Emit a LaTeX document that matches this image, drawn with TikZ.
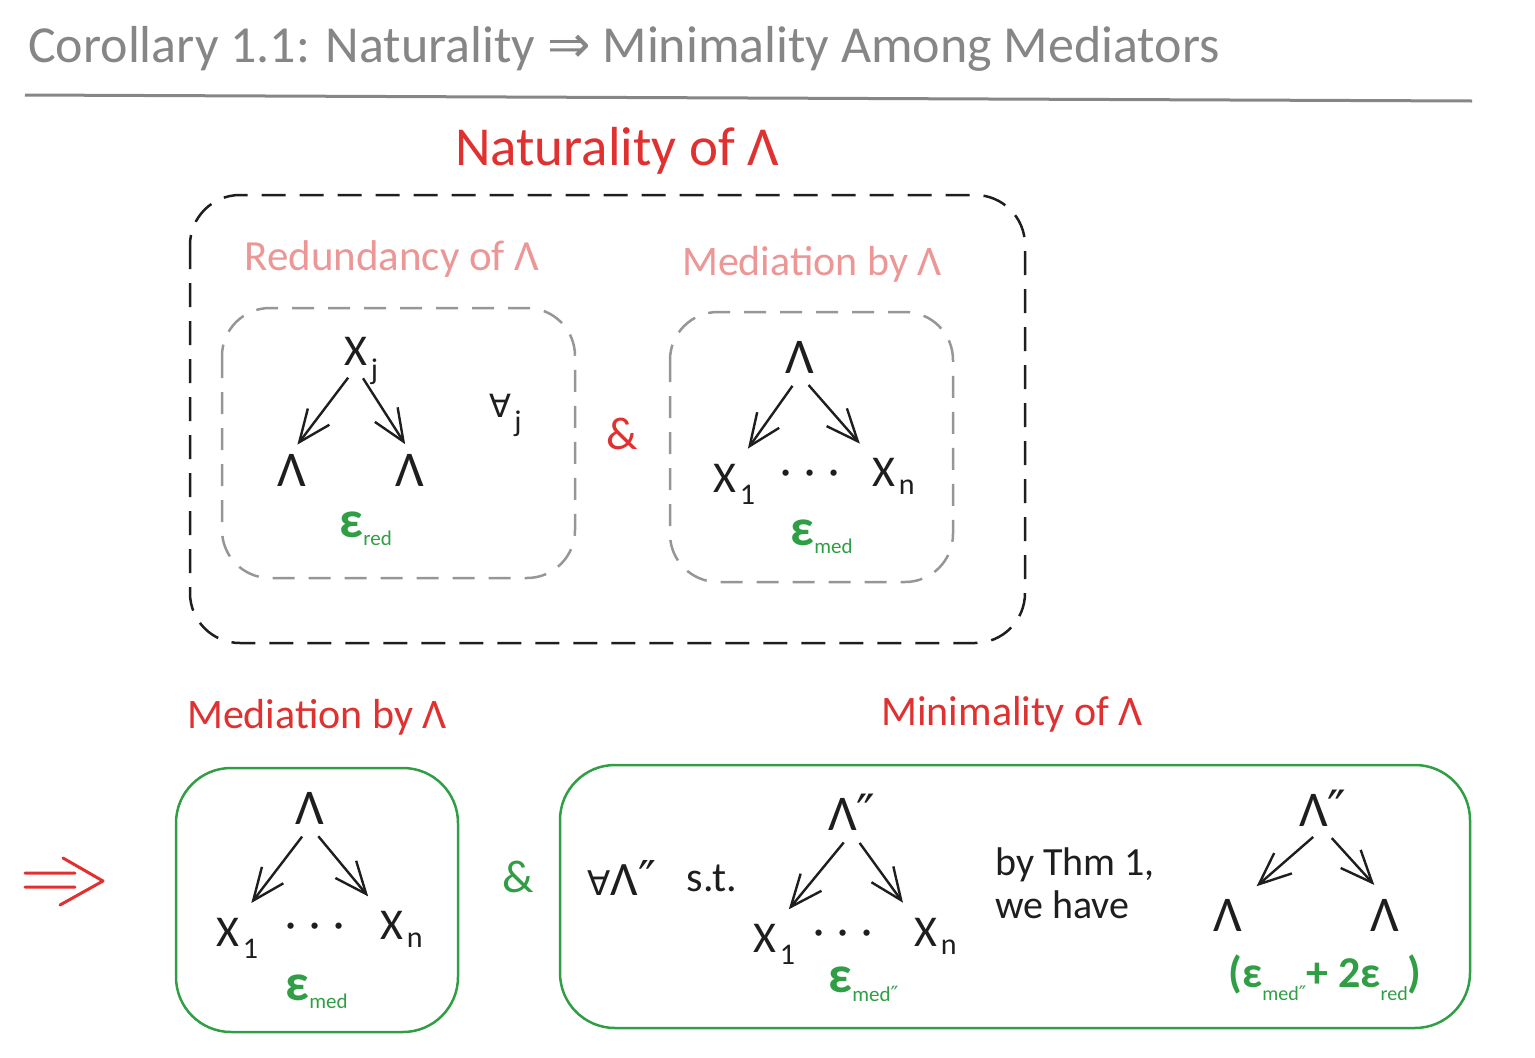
\documentclass[tikz,border=0pt]{standalone}
\usepackage{fontspec}
\setmainfont{Carlito}
\newfontfamily\symf{DejaVu Sans}
\usetikzlibrary{arrows.meta}
\usetikzlibrary{positioning}
\definecolor{inkgrey}{RGB}{134,134,134}
\definecolor{inkred}{RGB}{224,49,49}
\definecolor{inkpink}{RGB}{236,150,150}
\definecolor{inkgreen}{RGB}{47,158,68}
\definecolor{inkblack}{RGB}{30,30,30}
\definecolor{boxgrey}{RGB}{150,150,150}
\newcommand{\fs}[1]{\fontsize{#1}{#1}\selectfont}
\newcommand{\dprime}{{\symf ″}}
\newcommand{\lowsub}[1]{\raisebox{-0.3em}{\fs{20}\mdseries #1}}
\newcommand{\threedots}{·\hspace{13pt}·\hspace{13pt}·}
\tikzset{
	txt/.style = {inner sep=0pt, text=inkblack, font=\fs{40}},
	heading/.style = {inner sep=0pt, text=inkred, font=\fs{42}},% box titles
	softhead/.style = {heading, text=inkpink},
	sym/.style = {inner sep=2pt, text=inkblack, font=\fs{44}},
	lam/.style = {sym, font=\fs{50}},
	subs/.style = {inner sep=0pt, text=inkblack, font=\fs{30}, yshift=9pt, xshift=1pt},
	epsnode/.style = {inner sep=2pt, text=inkgreen, font=\fs{52}\bfseries},
	epssub/.style = {inner sep=0pt, text=inkgreen, font=\fs{21}, yshift=9pt, xshift=-2pt},
	arr/.style = {-{Straight Barb[length=32pt,width=27pt]}, line width=2.4pt,
		draw=inkblack, shorten <=13pt, shorten >=16pt},
	outerbox/.style = {draw=inkblack, line width=2.5pt,
		dash pattern=on 24pt off 14pt, rounded corners=50pt},
	innerbox/.style = {draw=boxgrey, line width=2.5pt,
		dash pattern=on 22pt off 14pt, rounded corners=48pt},
	greenbox/.style = {draw=inkgreen, line width=2.5pt, rounded corners=55pt}
}
\begin{document}
\begin{tikzpicture}[x=1pt,y=-1pt]
	\useasboundingbox (0,0) rectangle (1535,1058);
	% title and rule
	\node[anchor=base west, inner sep=0pt, text=inkgrey, font=\fs{52}] (title) at (28,62)
		{Corollary 1.1: Naturality {\symf ⇒} Minimality Among Mediators};
	\draw[inkgrey, line width=3pt] (25,95) -- (1472,101);
	% naturality
	\node[heading, font=\fs{55}, anchor=base] (nat) at (617,165) {Naturality of Λ};
	\draw[outerbox] (190,195) rectangle (1025,643);
	% redundancy
	\node[softhead, font=\fs{43}, anchor=base] (redhead) at (392,270) {Redundancy of Λ};
	\draw[innerbox] (222,308) rectangle (575,578);
	\node[sym, label={[subs]south east:j}] (xj) at (356,351) {X};
	\node[lam] (lamL) at (292,470) {Λ};
	\node[lam] (lamR) at (410,470) {Λ};
	\draw[arr, shorten >=9pt] (xj.south) -- (lamL.north);
	\draw[arr, shorten >=9pt] (xj.south) -- (lamR.north);
	\node[sym, font=\fs{32}\symf, label={[subs]south east:j}] (allj) at (500,406) {∀};
	\node[epsnode, label={[epssub]south east:red}] (epsred) at (351,525) {ε};
	\node[text=inkred, font=\fs{46}] (andA) at (622,434) {\&};
	% mediation
	\node[softhead, anchor=base] (medhead) at (812,275) {Mediation by Λ};
	\draw[innerbox] (670,312) rectangle (953,582);
	\node[lam] (lamM) at (800,357) {Λ};
	\node[sym, label={[subs]south east:1}] (xa) at (725,478) {X};
	\node[sym, label={[subs]south east:n}] (xb) at (884,472) {X};
	\node[sym] (dotsA) at (810,478) {\threedots};
	\draw[arr] (lamM.south) -- (xa.north east);
	\draw[arr] (lamM.south) -- (xb.north west);
	\node[epsnode, label={[epssub]south east:med}] (epsmed) at (802,533) {ε};
	% conclusion
	\draw[inkred, line width=3pt, line cap=round, line join=round]
		(25,873) -- (75,873) (25,887) -- (75,887) (63,858) -- (103,881) -- (60,905);
	\node[heading, anchor=base] (medhead2) at (317,728) {Mediation by Λ};
	\node[heading, anchor=base] (minhead) at (1012,725) {Minimality of Λ};
	\draw[greenbox] (176,768) rectangle (458,1032);
	\node[lam] (lamB) at (310,808) {Λ};
	\node[sym, label={[subs]south east:1}] (xc) at (228,932) {X};
	\node[sym, label={[subs]south east:n}] (xd) at (392,925) {X};
	\node[sym] (dotsB) at (315,931) {\threedots};
	\draw[arr] (lamB.south) -- (xc.north east);
	\draw[arr] (lamB.south) -- (xd.north west);
	\node[epsnode, label={[epssub]south east:med}] (epsmed2) at (297,988) {ε};
	\node[text=inkgreen, font=\fs{46}] (andB) at (518,877) {\&};
	% minimality
	\draw[greenbox] (560,765) rectangle (1470,1028);
	\node[txt, font=\fs{48}] (forall) at (622,878) {{\symf\fs{34}∀}Λ\dprime};
	\node[txt, font=\fs{42}, right=30pt of forall] (st) {s.t.};
	\node[lam] (lamC) at (852,812) {Λ\dprime};
	\node[sym, label={[subs]south east:1}] (xe) at (765,938) {X};
	\node[sym, label={[subs]south east:n}] (xf) at (926,932) {X};
	\node[sym] (dotsC) at (843,938) {\threedots};
	\draw[arr] (lamC.south) -- (xe.north east);
	\draw[arr] (lamC.south) -- (xf.north west);
	\node[epsnode, label={[epssub]south east:med\dprime}] (epsmed3) at (840,980) {ε};
	\node[txt, anchor=base west] (thm) at (995,875) {by Thm 1,};
	\node[txt, anchor=base west] (have) at (995,918) {we have};
	\node[lam] (lamD) at (1323,808) {Λ\dprime};
	\node[lam] (lamE) at (1228,915) {Λ};
	\node[lam] (lamF) at (1385,915) {Λ};
	\draw[arr] (lamD.south) -- (lamE.north east);
	\draw[arr] (lamD.south) -- (lamF.north);
	\node[text=inkgreen, font=\fs{44}\bfseries] (bound) at (1325,978)
		{(ε\lowsub{med\dprime}+ 2ε\lowsub{red})};
\end{tikzpicture}
\end{document}
